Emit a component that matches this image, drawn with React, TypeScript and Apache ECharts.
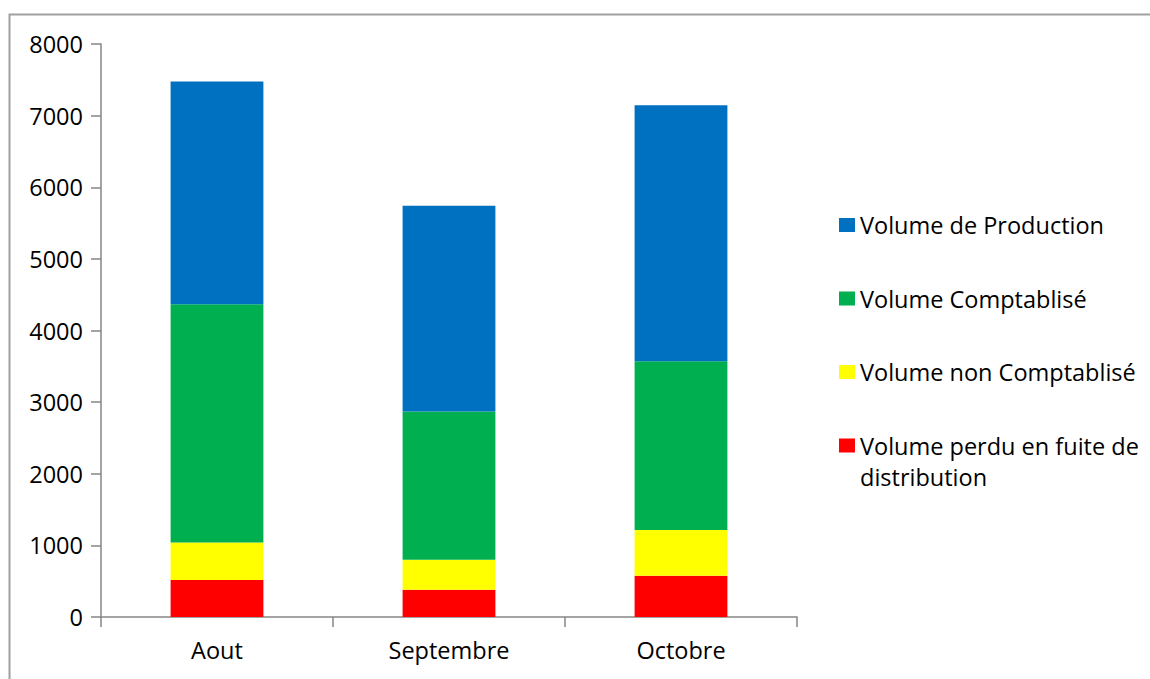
import React, { useEffect, useRef } from "react";
import * as echarts from "echarts";

const categories = ["Aout", "Septembre", "Octobre"];
const seriesNames = [
  "Volume perdu en fuite de distribution",
  "Volume non Comptablisé",
  "Volume Comptablisé",
  "Volume de Production",
];
const perdu = [515, 380, 575];
const nonComptabilise = [525, 420, 640];
const comptabilise = [3325, 2070, 2355];
const production = [3110, 2870, 3575];
const colors = ["#FF0000", "#FFFF00", "#00B050", "#0070C0"];
const yTicks = { min: 0, max: 8000, interval: 1000 };

const FONT = "'Open Sans', 'Liberation Sans', sans-serif";
const FS = 23.5;

export default function App() {
  const ref = useRef<HTMLDivElement>(null);
  useEffect(() => {
    if (!ref.current) return;
    const chart = echarts.init(ref.current, undefined, { renderer: "svg" });
    const values = [perdu, nonComptabilise, comptabilise, production];
    const axisColor = "#868686";
    chart.setOption({
      animation: false,
      backgroundColor: "#ffffff",
      grid: { left: 101, right: 353, top: 44, bottom: 62, containLabel: false },
      xAxis: {
        type: "category",
        data: categories,
        axisLine: { lineStyle: { color: axisColor, width: 1.5 } },
        axisTick: { show: true, length: 10, lineStyle: { color: axisColor, width: 1.5 } },
        axisLabel: { color: "#000", fontSize: FS, fontFamily: FONT, margin: 21 },
        splitLine: { show: false },
      },
      yAxis: {
        type: "value",
        min: yTicks.min,
        max: yTicks.max,
        interval: yTicks.interval,
        axisLine: { show: true, lineStyle: { color: axisColor, width: 1.5 } },
        axisTick: { show: true, length: 10, lineStyle: { color: axisColor, width: 1.5 } },
        axisLabel: {
          color: "#000",
          fontSize: FS,
          fontFamily: FONT,
          margin: 18,
          formatter: (v: number) => String(v),
        },
        splitLine: { show: false },
      },
      legend: {
        orient: "vertical",
        left: 839,
        top: 211,
        padding: 0,
        itemWidth: 16,
        itemHeight: 14,
        itemGap: 45.5,
        icon: "rect",
        data: [...seriesNames].reverse(),
        formatter: (name: string) =>
          name === seriesNames[0] ? "Volume perdu en fuite de" : name,
        textStyle: { color: "#000", fontSize: FS, fontFamily: FONT, lineHeight: 28 },
        selectedMode: false,
      },
      graphic: [
        {
          type: "rect",
          silent: true,
          shape: { x: 9.5, y: 14.5, width: 1300, height: 800 },
          style: { fill: "none", stroke: "#a0a0a0", lineWidth: 2 },
        },
        {
          type: "text",
          silent: true,
          x: 860,
          y: 477,
          style: {
            text: "distribution",
            fill: "#000",
            fontSize: FS,
            fontFamily: FONT,
            verticalAlign: "middle",
            align: "left",
          },
        },
      ],
      series: seriesNames.map((name, i) => ({
        name,
        type: "bar",
        stack: "total",
        barWidth: "40%",
        data: values[i],
        itemStyle: { color: colors[i] },
      })),
    });
    return () => chart.dispose();
  }, []);
  return (
    <div
      ref={ref}
      style={{ position: "fixed", left: 0, top: 0, width: 1150, height: 679 }}
    />
  );
}
